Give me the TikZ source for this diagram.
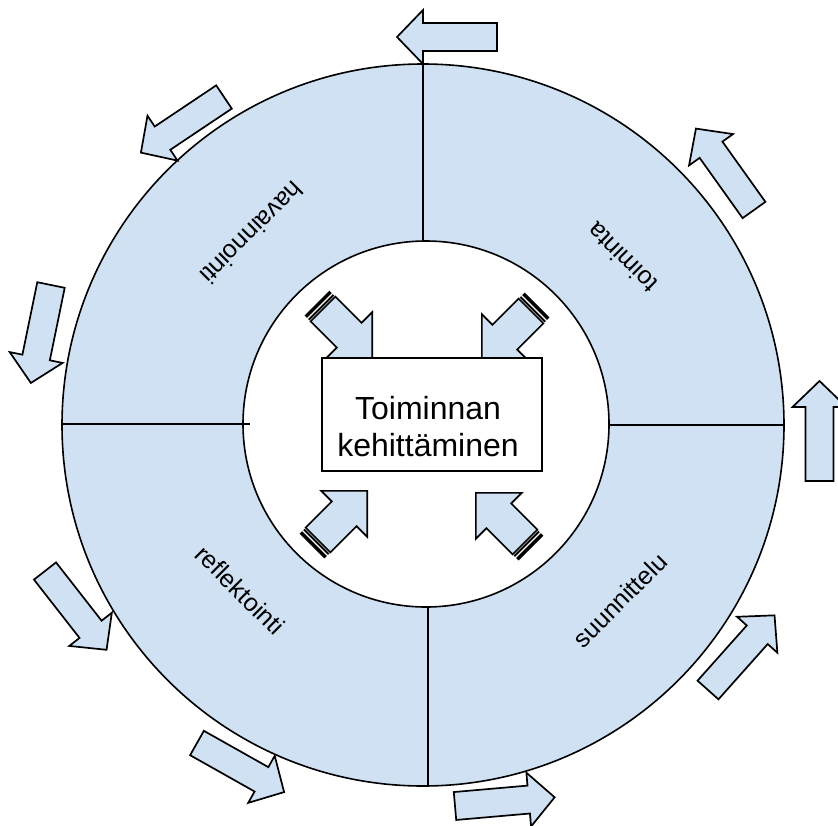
\documentclass[tikz,border=0pt]{standalone}
\usepackage{fontspec}
\setmainfont{Liberation Sans}
\definecolor{ringblue}{RGB}{207,225,242}
\newcommand\outarrow[3]{\begin{scope}[shift={(#1,#2)},rotate=#3]
\draw[barrow] (0,-14) -- (74,-14) -- (74,-27) -- (100,0) -- (74,27) -- (74,14) -- (0,14) -- cycle;
\end{scope}}
\newcommand\inarrow[3]{\begin{scope}[shift={(#1,#2)},rotate=#3]
\fill[black] (0,-17.5) rectangle (3.5,17.5);
\fill[black] (5,-17.5) rectangle (7,17.5);
\draw[barrow] (8.5,-17.5) -- (45.5,-17.5) -- (45.5,-32.5) -- (78,0) -- (45.5,32.5) -- (45.5,17.5) -- (8.5,17.5) -- cycle;
\end{scope}}
\begin{document}
\begin{tikzpicture}[x=1pt,y=-1pt,
  ring/.style={draw=black, line width=1.6pt},
  barrow/.style={draw=black, fill=ringblue, line width=1.7pt, line join=miter},
  lbl/.style={font=\fontsize{25}{29}\selectfont, inner sep=0pt},
  ]
\useasboundingbox (0,0) rectangle (838,825);
\clip (0,0) rectangle (838,825);
\coordinate (O) at (423,425);
\coordinate (I) at (426,424);
\draw[ring, fill=ringblue] (O) circle[radius=361pt];
\draw[ring, fill=white] (I) circle[radius=183pt];
\draw[ring] (423,64) -- (423,242);
\draw[ring] (609,425) -- (784,425);
\draw[ring] (428,606) -- (428,786);
\draw[ring] (62,424) -- (250,424);
% outer arrows
\outarrow{497}{37}{180}
\outarrow{754}{210}{125.5}
\outarrow{819.5}{481}{90}
\outarrow{708}{690}{48.3}
\outarrow{455}{806}{5}
\outarrow{197}{743}{-29.4}
\outarrow{45}{571}{-52}
\outarrow{51}{285}{-101.6}
\outarrow{224}{97}{213.8}
% inner arrows
\inarrow{317}{303}{-45}
\inarrow{537}{305}{225}
\inarrow{312}{546}{45}
\inarrow{531}{548}{135}
% centre
\node[draw=black, fill=white, line width=1.6pt, minimum width=220pt, minimum height=113pt, inner sep=0pt] (box) at (432,414.5) {};
\node[font=\fontsize{32}{37}\selectfont, align=center, inner sep=0pt] (title) at (428,427) {Toiminnan\\kehittäminen};
% ring labels
\node[lbl, rotate=225] (hav) at (252,233) {havainnointi};
\node[lbl, rotate=135] (toi) at (622,258) {toiminta};
\node[lbl, rotate=45] (suu) at (620,600) {suunnittelu};
\node[lbl, rotate=-45] (ref) at (240,590) {reflektointi};
\end{tikzpicture}
\end{document}
